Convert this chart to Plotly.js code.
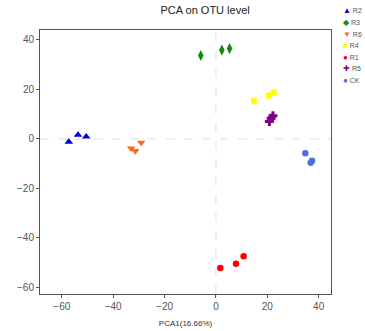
<!DOCTYPE html>
<html><head><meta charset="utf-8">
<script src="https://cdn.plot.ly/plotly-3.0.1.min.js"></script>
<style>html,body{margin:0;padding:0;background:#fff}#plot{width:365px;height:331px}</style>
</head><body><div id="plot"></div>
<script>
const groups = ["R2","R3","R6","R4","R1","R5","CK"];
const R2_x = [-57.3,-53.7,-50.5], R2_y = [-1.2,1.6,0.9];
const R3_x = [-5.9,2.3,5.3],      R3_y = [33.7,35.9,36.5];
const R6_x = [-33.0,-31.4,-29.1], R6_y = [-3.8,-4.9,-1.5];
const R4_x = [14.8,20.7,22.5],    R4_y = [15.4,17.5,18.7];
const R1_x = [1.7,7.8,10.8],      R1_y = [-52.2,-50.5,-47.4];
const R5_x = [20.8,21.5,22.2],    R5_y = [7.0,8.3,9.3];
const CK_x = [34.8,37.4,36.9],    CK_y = [-5.8,-8.8,-9.7];
const xTicks = [-60,-40,-20,0,20,40];
const yTicks = [-60,-40,-20,0,20,40];

const xs = {R2:R2_x,R3:R3_x,R6:R6_x,R4:R4_x,R1:R1_x,R5:R5_x,CK:CK_x};
const ys = {R2:R2_y,R3:R3_y,R6:R6_y,R4:R4_y,R1:R1_y,R5:R5_y,CK:CK_y};
const colors = {R2:"#0000e0",R3:"#138a13",R6:"#ff6619",R4:"#ffff00",R1:"#ff0000",R5:"#800080",CK:"#4a72d8"};
const symbols = {R2:"triangle-up",R3:"diamond-tall",R6:"triangle-down",R4:"square",R1:"circle",R5:"cross",CK:"circle"};
const glyphs = {R2:"▲",R3:"◆",R6:"▼",R4:"■",R1:"●",R5:"✚",CK:"●"};
const sizes = {R2:7.5,R3:8,R6:7.5,R4:6,R1:6.5,R5:7.5,CK:6.5};

const traces = groups.map(g => ({
  type:"scatter", mode:"markers", name:g, x:xs[g], y:ys[g], showlegend:false,
  marker:{color:colors[g], symbol:symbols[g], size:sizes[g], line:{width:0}}
}));

// legend drawn as text annotations (compact spacing like the reference)
const legendAnn = groups.map((g,i) => ({
  xref:"paper", yref:"paper", x:1.035, y:1.072 - i*0.0436, xanchor:"left", yanchor:"middle",
  showarrow:false, align:"left",
  text:'<span style="color:'+colors[g]+';font-size:8px">'+glyphs[g]+'</span> '+g,
  font:{size:7,color:"#555"}
}));

const layout = {
  width:365, height:331,
  margin:{l:40,r:34,t:30,b:37},
  paper_bgcolor:"#fff", plot_bgcolor:"#fff",
  font:{family:"Liberation Sans, Arial, sans-serif", color:"#555"},
  title:{text:"PCA on OTU level", font:{size:11,color:"#222"}, x:0.562, xanchor:"center", y:0.97, yanchor:"middle"},
  xaxis:{range:[-68.5,44.8], tickvals:xTicks, showgrid:false, zeroline:false,
    showline:true, mirror:true, linecolor:"#555", linewidth:1,
    ticks:"outside", ticklen:3, tickcolor:"#555", tickfont:{size:10,color:"#555"},
    title:{text:"PCA1(16.66%)", font:{size:8,color:"#333"}, standoff:9}},
  yaxis:{range:[-62.7,44], tickvals:yTicks, showgrid:false, zeroline:false,
    showline:true, mirror:true, linecolor:"#555", linewidth:1,
    ticks:"outside", ticklen:3, tickcolor:"#555", tickfont:{size:10,color:"#555"}},
  shapes:[
    {type:"line", xref:"x", yref:"paper", x0:0, x1:0, y0:0, y1:1, line:{color:"#e0e0e0", width:1, dash:"dash"}, layer:"below"},
    {type:"line", xref:"paper", yref:"y", x0:0, x1:1, y0:0, y1:0, line:{color:"#e0e0e0", width:1, dash:"dash"}, layer:"below"}
  ],
  annotations: legendAnn,
  showlegend:false
};
Plotly.newPlot("plot", traces, layout, {displayModeBar:false, staticPlot:true});
</script></body></html>
